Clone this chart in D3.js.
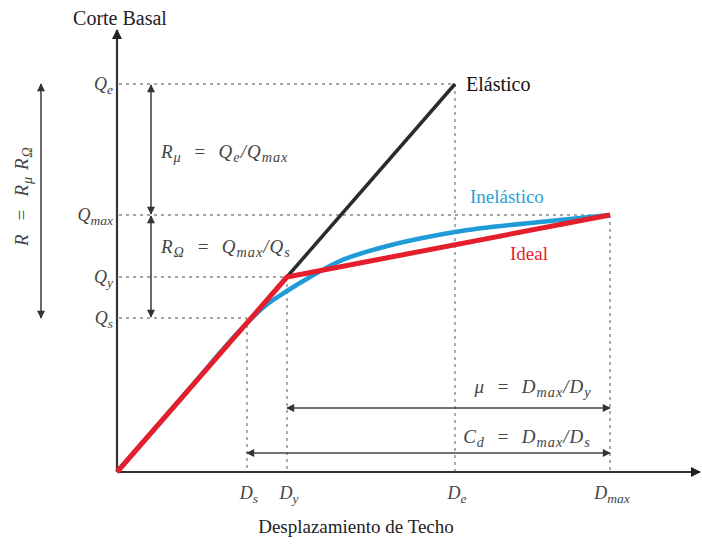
<!DOCTYPE html>
<html>
<head>
<meta charset="utf-8">
<script src="https://cdnjs.cloudflare.com/ajax/libs/d3/7.8.5/d3.min.js"></script>
<style>
  body { margin: 0; background: #fff; }
  svg text { font-family: "Liberation Serif", "Times New Roman", "DejaVu Serif", serif; }
  .math { font-style: italic; fill: #444; }
</style>
</head>
<body>
<svg id="chart" width="702" height="545" font-family="Liberation Serif, serif"></svg>
<script>

// displacement marks (x) and shear marks (y), abstract units
var dNames = ["s", "y", "e", "max"];
var dValues = [1.30, 1.70, 3.38, 4.93];
var qNames = ["s", "y", "max", "e"];
var qValues = [1.54, 1.95, 2.57, 3.88];

// curves
var elastic = [[0, 0], [3.38, 3.88]];
var ideal = [[0, 0], [1.70, 1.95], [4.93, 2.57]];
var inelastic = [[0, 0], [0.65, 0.745], [1.30, 1.49], [1.48, 1.66], [1.70, 1.81], [1.93, 1.95],
                 [2.23, 2.11], [2.63, 2.24], [3.38, 2.40], [4.33, 2.51], [4.93, 2.57]];

var EQ = "\u00A0\u00A0=\u00A0\u00A0";

var svg = d3.select("#chart");

var x = d3.scaleLinear().domain([0, 5.83]).range([117, 700]);
var y = d3.scaleLinear().domain([0, 4.42]).range([472, 30]);

var defs = svg.append("defs");
function addMarker(id, color, w, h) {
  defs.append("marker")
      .attr("id", id)
      .attr("viewBox", "0 0 10 10")
      .attr("refX", 9).attr("refY", 5)
      .attr("markerUnits", "userSpaceOnUse")
      .attr("markerWidth", w).attr("markerHeight", h)
      .attr("orient", "auto-start-reverse")
    .append("path")
      .attr("d", "M0,0 L10,5 L0,10 z")
      .attr("fill", color);
}
addMarker("arrow", "#333", 9, 8);
addMarker("axisArrow", "#222", 12, 10);

var Ds = dValues[0], Dy = dValues[1], De = dValues[2], Dmax = dValues[3];
var Qs = qValues[0], Qy = qValues[1], Qmax = qValues[2], Qe = qValues[3];

// guide dotted lines
var guides = svg.append("g")
    .attr("stroke", "#888")
    .attr("stroke-width", 1.4)
    .attr("stroke-dasharray", "3,4");

var hGuides = [[Qe, De], [Qmax, Dmax], [Qy, Dy], [Qs, Ds]];
guides.selectAll("line.h").data(hGuides).enter().append("line")
    .attr("class", "h")
    .attr("x1", x(0) + 2).attr("x2", function(d) { return x(d[1]); })
    .attr("y1", function(d) { return y(d[0]); })
    .attr("y2", function(d) { return y(d[0]); });

var vGuides = [[Ds, Qs], [Dy, Qy], [De, Qe], [Dmax, Qmax]];
guides.selectAll("line.v").data(vGuides).enter().append("line")
    .attr("class", "v")
    .attr("x1", function(d) { return x(d[0]); })
    .attr("x2", function(d) { return x(d[0]); })
    .attr("y1", function(d) { return y(d[1]); })
    .attr("y2", y(0));

// axes
svg.append("line")
    .attr("x1", x(0)).attr("y1", y(0)).attr("x2", x(0)).attr("y2", y(4.42))
    .attr("stroke", "#333").attr("stroke-width", 2.2)
    .attr("marker-end", "url(#axisArrow)");
svg.append("line")
    .attr("x1", x(0)).attr("y1", y(0)).attr("x2", x(5.83)).attr("y2", y(0))
    .attr("stroke", "#333").attr("stroke-width", 2.2)
    .attr("marker-end", "url(#axisArrow)");

// curves
var line = d3.line().x(function(d) { return x(d[0]); }).y(function(d) { return y(d[1]); });

svg.append("path").datum(elastic)
    .attr("d", line).attr("fill", "none")
    .attr("stroke", "#2b2b2b").attr("stroke-width", 3.5);

svg.append("path").datum(inelastic)
    .attr("d", line.curve(d3.curveMonotoneX)).attr("fill", "none")
    .attr("stroke", "#1f9bd7").attr("stroke-width", 4.5);

svg.append("path").datum(ideal)
    .attr("d", line.curve(d3.curveLinear)).attr("fill", "none")
    .attr("stroke", "#e41e2b").attr("stroke-width", 5)
    .attr("stroke-linejoin", "round");

// helper for math labels: parts = [[text, isSub], ...]
function mathLabel(g, px, py, parts, anchor, size) {
  size = size || 15;
  var t = g.append("text")
      .attr("class", "math")
      .attr("x", px).attr("y", py)
      .attr("font-size", size)
      .attr("text-anchor", anchor || "start");
  var shift = 0;
  parts.forEach(function(p) {
    var ts = t.append("tspan").text(p[0]);
    if (p[1]) {
      ts.attr("font-size", size * 0.75).attr("dy", 4 - shift);
      shift = 4;
    } else {
      ts.attr("dy", -shift);
      shift = 0;
    }
  });
  return t;
}

var labels = svg.append("g");

// Q labels
qValues.forEach(function(q, i) {
  mathLabel(labels, x(0) - 4, y(q) + 6, [["Q", 0], [qNames[i], 1]], "end", 18);
});
// D labels
dValues.forEach(function(dv, i) {
  mathLabel(labels, x(dv) + 2, y(0) + 27, [["D", 0], [dNames[i], 1]], "middle", 18);
});

// vertical double arrows at x = 151
var ax = 151;
[[Qe, Qmax], [Qmax, Qs]].forEach(function(seg) {
  svg.append("line")
      .attr("x1", ax).attr("x2", ax)
      .attr("y1", y(seg[0]) + 1).attr("y2", y(seg[1]) - 1)
      .attr("stroke", "#444").attr("stroke-width", 1.6)
      .attr("marker-start", "url(#arrow)").attr("marker-end", "url(#arrow)");
});
// left overall arrow
svg.append("line")
    .attr("x1", 41).attr("x2", 41)
    .attr("y1", y(Qe)).attr("y2", y(Qs))
    .attr("stroke", "#444").attr("stroke-width", 1.6)
    .attr("marker-start", "url(#arrow)").attr("marker-end", "url(#arrow)");

// horizontal double arrows
svg.append("line")
    .attr("x1", x(Dy)).attr("x2", x(Dmax))
    .attr("y1", 408).attr("y2", 408)
    .attr("stroke", "#444").attr("stroke-width", 1.6)
    .attr("marker-start", "url(#arrow)").attr("marker-end", "url(#arrow)");
svg.append("line")
    .attr("x1", x(Ds)).attr("x2", x(Dmax))
    .attr("y1", 453).attr("y2", 453)
    .attr("stroke", "#444").attr("stroke-width", 1.6)
    .attr("marker-start", "url(#arrow)").attr("marker-end", "url(#arrow)");

// ratio formulas
mathLabel(labels, 161, 158, [["R", 0], ["μ", 1], [EQ + "Q", 0], ["e", 1], ["/Q", 0], ["max", 1]], "start", 19)
    .attr("letter-spacing", 1);
mathLabel(labels, 161, 253, [["R", 0], ["Ω", 1], [EQ + "Q", 0], ["max", 1], ["/Q", 0], ["s", 1]], "start", 19)
    .attr("letter-spacing", 1);
mathLabel(labels, 533, 393, [["μ" + EQ + "D", 0], ["max", 1], ["/D", 0], ["y", 1]], "middle", 19)
    .attr("letter-spacing", 1);
mathLabel(labels, 527, 443, [["C", 0], ["d", 1], [EQ + "D", 0], ["max", 1], ["/D", 0], ["s", 1]], "middle", 19)
    .attr("letter-spacing", 1);

// rotated R label
var rl = svg.append("g").attr("transform", "translate(28,196) rotate(-90)");
mathLabel(rl, 0, 0, [["R" + EQ + "R", 0], ["μ", 1], ["\u00A0R", 0], ["Ω", 1]], "middle", 19)
    .attr("letter-spacing", 1);

// series names
svg.append("text").attr("x", 466).attr("y", 91)
    .attr("font-size", 20).attr("fill", "#111").text("Elástico");
svg.append("text").attr("x", 470).attr("y", 203)
    .attr("font-size", 19).attr("fill", "#2a9fd6").text("Inelástico");
svg.append("text").attr("x", 510).attr("y", 260)
    .attr("font-size", 19).attr("fill", "#e41e2b").text("Ideal");

// axis titles
svg.append("text").attr("x", 120).attr("y", 25)
    .attr("text-anchor", "middle").attr("font-size", 20).attr("fill", "#222")
    .text("Corte Basal");
svg.append("text").attr("x", 356).attr("y", 533)
    .attr("text-anchor", "middle").attr("font-size", 19).attr("fill", "#222")
    .text("Desplazamiento de Techo");

</script>
</body>
</html>
